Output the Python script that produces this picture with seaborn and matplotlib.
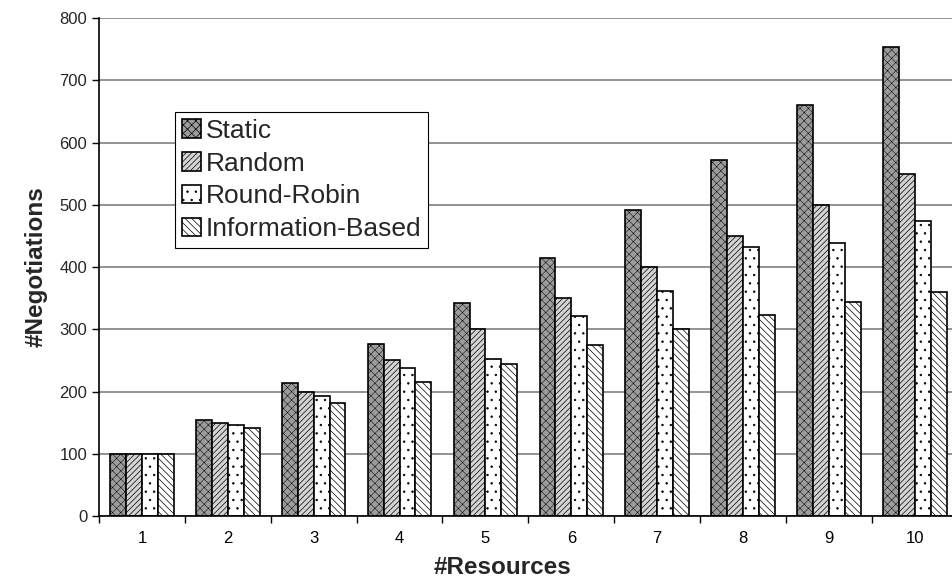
import pandas as pd
import numpy as np
import matplotlib
matplotlib.use('Agg')
import matplotlib.pyplot as plt
import seaborn as sns

resources = ['1', '2', '3', '4', '5', '6', '7', '8', '9', '10']
methods = ['Static', 'Random', 'Round-Robin', 'Information-Based']
static = [100, 155, 214, 276, 343, 415, 491, 572, 660, 753]
random_ = [100, 150, 200, 250, 300, 350, 400, 450, 500, 550]
round_robin = [100, 147, 193, 238, 252, 322, 362, 432, 439, 474]
info_based = [100, 142, 181, 216, 245, 274, 300, 323, 344, 360]
y_ticks = [0, 100, 200, 300, 400, 500, 600, 700, 800]

# long format for seaborn
rows = []
for name, vals in zip(methods, [static, random_, round_robin, info_based]):
    for r, v in zip(resources, vals):
        rows.append({'res': r, 'neg': v, 'method': name})
df = pd.DataFrame(rows)

sns.set_style('white')
plt.rcParams['font.family'] = ['Liberation Sans', 'DejaVu Sans']
plt.rcParams['hatch.linewidth'] = 0.5

fig = plt.figure(figsize=(9.52, 5.87), dpi=100)
# right edge of the plot area sits just past the image border
ax = fig.add_axes([0.104, 0.121, 0.902, 0.848])

faces = ['#9c9c9c', '#d4d4d4', 'white', 'white']
hatches = ['xxxx', '//////', '..', '\\\\\\\\\\']
hatch_lw = [0.35, 0.5, 0.5, 0.5]

sns.barplot(data=df, x='res', y='neg', hue='method', hue_order=methods,
            order=resources, width=0.74, palette=faces, edgecolor='black',
            linewidth=1.2, saturation=1, ax=ax, errorbar=None)

for cont, h, fc, hl in zip(ax.containers, hatches, faces, hatch_lw):
    for bar in cont:
        bar.set_hatch(h)
        bar.set_facecolor(fc)
        bar.set_edgecolor('black')
        if hasattr(bar, 'set_hatch_linewidth'):
            bar.set_hatch_linewidth(hl)

ax.set_ylim(0, 800)
ax.set_xlim(-0.5, 9.5)
ax.set_yticks(y_ticks)
ax.yaxis.grid(True, color='#808080', linewidth=1.2)
ax.set_axisbelow(True)

ax.set_xticks(np.arange(-0.5, 10, 1), minor=True)
ax.tick_params(axis='x', which='major', length=0, labelsize=12, pad=11, colors='black')
ax.tick_params(axis='x', which='minor', length=5, width=1, color='black', direction='out', bottom=True)
ax.tick_params(axis='y', length=5, width=1, color='black', direction='out', labelsize=12, left=True)

for s in ['top', 'right']:
    ax.spines[s].set_visible(False)
for s in ['left', 'bottom']:
    ax.spines[s].set_color('black')
    ax.spines[s].set_linewidth(1.2)

ax.set_xlabel('#Resources', fontsize=17.5, fontweight='bold')
ax.set_ylabel('#Negotiations', fontsize=17.5, fontweight='bold')
ax.xaxis.set_label_coords(0.47, -0.08)
ax.yaxis.set_label_coords(-0.06, 0.5)

leg = ax.legend(loc='upper left', bbox_to_anchor=(0.089, 0.811), fontsize=19,
                frameon=True, fancybox=False, edgecolor='black', framealpha=1,
                handlelength=0.7, handleheight=0.7, handletextpad=0.2,
                labelspacing=0.33, borderpad=0.25, borderaxespad=0)
leg.get_frame().set_linewidth(0.8)
for patch, h in zip(leg.get_patches(), hatches):
    patch.set_hatch(h)
    patch.set_edgecolor('black')

fig.savefig('out.png', dpi=100)
